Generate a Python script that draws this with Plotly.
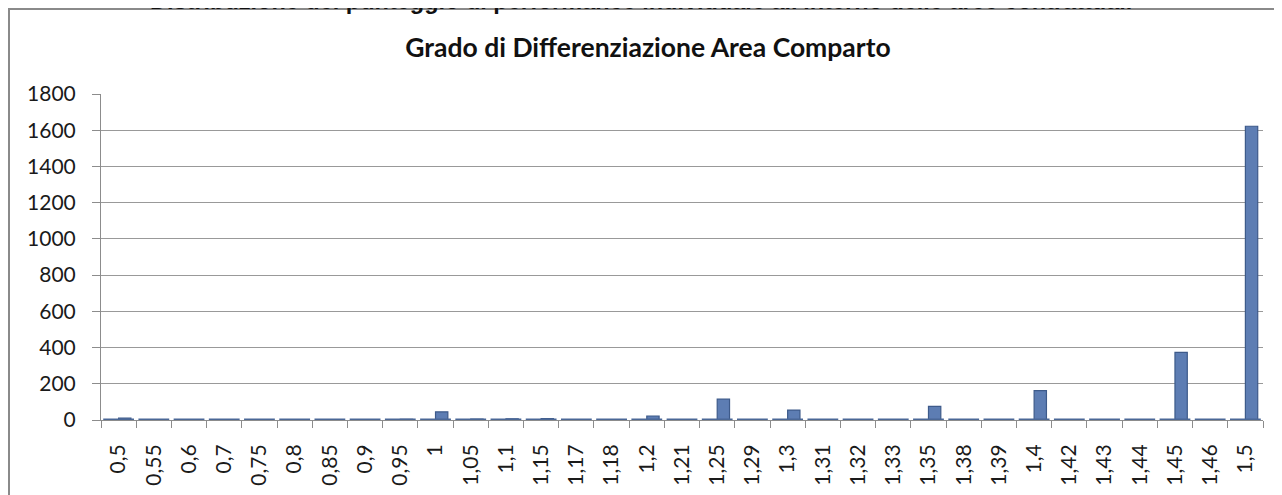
import plotly.graph_objects as go

categories = ["0,5", "0,55", "0,6", "0,7", "0,75", "0,8", "0,85", "0,9", "0,95", "1",
              "1,05", "1,1", "1,15", "1,17", "1,18", "1,2", "1,21", "1,25", "1,29", "1,3",
              "1,31", "1,32", "1,33", "1,35", "1,38", "1,39", "1,4", "1,42", "1,43", "1,44",
              "1,45", "1,46", "1,5"]
series_a = [0] * 33
series_b = [10, 0, 0, 0, 0, 0, 0, 0, 4, 45,
            5, 7, 8, 0, 0, 22, 0, 115, 0, 55,
            0, 0, 0, 75, 0, 0, 162, 0, 0, 0,
            373, 0, 1622]
y_ticks = [0, 200, 400, 600, 800, 1000, 1200, 1400, 1600, 1800]

title_main = "Grado di Differenziazione Area Comparto"
title_top = "Distribuzione del punteggio di performance individuale all'interno delle aree contrattuali"

# page has an 8px body margin; figure coordinates are page minus 8
OFF = 8
W, H = 1274, 487
L, R, T, B = 93, 19, 86, 75
pw, ph = W - L - R, H - T - B

def px2x(px):
    return (px - OFF - L) / pw

def px2y(py):
    return (H - B - (py - OFF)) / ph

fig = go.Figure()
fig.add_trace(go.Bar(x=categories, y=series_a, marker=dict(color="#5b7bb0"),
                     hoverinfo="skip"))
fig.add_trace(go.Bar(x=categories, y=series_b,
                     marker=dict(color="#5d7db3", line=dict(color="#3d5a8a", width=1.2))))
# flat bases of the cylinders (zero-height parts)
fig.add_trace(go.Scatter(x=categories, y=series_a, mode="markers", hoverinfo="skip",
                         marker=dict(symbol="line-ew", size=22,
                                     line=dict(color="#4a6796", width=3))))

fig.update_layout(
    width=W, height=H,
    margin=dict(l=L, r=R, t=T, b=B),
    paper_bgcolor="white", plot_bgcolor="white",
    barmode="group", bargap=0.3, bargroupgap=0.0,
    showlegend=False,
    font=dict(family="Lato", color="#1a1a1a"),
    title=dict(text="<b>" + title_main + "</b>", x=(648 - OFF) / W, xanchor="center",
               y=1 - (48 - OFF) / H, yanchor="middle", yref="container", automargin=False,
               font=dict(family="Lato", size=26.5, color="#111111")),
    xaxis=dict(type="category", tickangle=-90, tickfont=dict(size=21, family="Lato"),
               range=[-0.5, len(categories) - 0.5], autorange=False, automargin=False,
               showline=True, linecolor="#8c8c8c", linewidth=1,
               ticks="outside", tickson="boundaries", ticklen=7, tickcolor="#8c8c8c",
               showgrid=False, fixedrange=True, ticklabelstandoff=15),
    yaxis=dict(range=[0, 1800], tickvals=y_ticks, tickfont=dict(size=21, family="Lato"),
               automargin=False,
               showline=True, linecolor="#8c8c8c", linewidth=1,
               ticks="outside", ticklen=8, tickcolor="#8c8c8c",
               showgrid=True, gridcolor="#999999", gridwidth=1,
               zeroline=False, ticklabelstandoff=12),
    shapes=[dict(type="rect", xref="paper", yref="paper",
                 x0=px2x(9), x1=px2x(1300), y0=px2y(530), y1=px2y(9),
                 line=dict(color="#8a8a8a", width=2), fillcolor="rgba(0,0,0,0)",
                 layer="below")],
    annotations=[dict(text="<b>" + title_top + "</b>", xref="paper", yref="paper",
                      x=px2x(641), y=px2y(16), xanchor="center", yanchor="bottom",
                      showarrow=False,
                      font=dict(family="Liberation Sans", size=23.5, color="#111111"))],
)

fig.write_html("out.html")
